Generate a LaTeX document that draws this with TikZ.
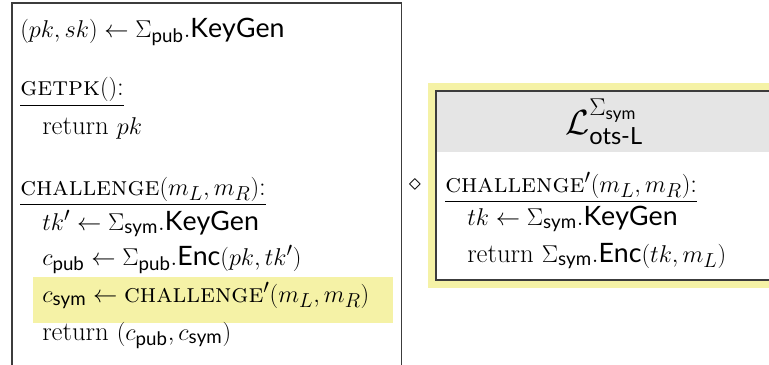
\documentclass[tikz,border=0pt]{standalone}
\usepackage{amsmath}
\usepackage{fontspec}
\setsansfont{Lato}
\usepackage{tikz}

\definecolor{hlyellow}{RGB}{245,242,166}
\definecolor{hdgray}{RGB}{229,229,229}
\definecolor{frameline}{RGB}{60,60,60}

\newcommand{\pub}{\mathsf{pub}}
\newcommand{\sym}{\mathsf{sym}}
\newcommand{\oracle}[1]{\textsc{#1}}

\begin{document}
\begin{tikzpicture}[x=0.025cm,y=-0.025cm,
		codeline/.style={anchor=base west,inner sep=0pt,font=\fontsize{19}{23}\selectfont},
		frame/.style={draw=frameline,line width=1.1pt},
		innerframe/.style={draw=frameline,line width=0.8pt}]
		
		\useasboundingbox (0,0) rectangle (769,364);
		\clip (0,0) rectangle (769,364);
		
		% Left game
		% Draw frame and highlighted line
		\draw[frame] (12,3) rectangle (401.5,380);
		\fill[hlyellow] (33,277) rectangle (393,323);
		
		% Draw code lines
		\node[codeline] (keygen) at (20,37) {$(pk, sk) \leftarrow \Sigma_{\pub}.\mathsf{KeyGen}$};
		\node[codeline] (getpk) at (20,95) {\oracle{getpk}$()$:};
		\node[codeline] (retpk) at (42,134) {return $pk$};
		\node[codeline] (chal) at (20,195) {\oracle{challenge}$(m_L, m_R)$:};
		\node[codeline] (tkp) at (42,230) {$tk' \leftarrow \Sigma_{\sym}.\mathsf{KeyGen}$};
		\node[codeline] (cpub) at (42,265) {$c_{\pub} \leftarrow \Sigma_{\pub}.\mathsf{Enc}(pk, tk')$};
		\node[codeline] (csym) at (42,302) {$c_{\sym} \leftarrow \oracle{challenge}'(m_L, m_R)$};
		\node[codeline] (retc) at (42,340) {return $(c_{\pub}, c_{\sym})$};
		
		% Draw underlines
		\draw[line width=0.8pt] ([yshift=-3pt]getpk.south west) -- ([yshift=-3pt]getpk.south east);
		\draw[line width=0.8pt] ([yshift=-2pt]chal.south west) -- ([yshift=-2pt]chal.south east);
		
		
		% Composition
		\node[font=\fontsize{18}{22}\selectfont] (comp) at (415,185) {$\diamond$};
		
		
		% Right library
		% Draw highlight, header and frame
		\fill[hlyellow] (428,83) rectangle (790,288);
		\fill[white] (436,91) rectangle (790,280);
		\fill[hdgray] (436,91) rectangle (790,152);
		\draw[innerframe] (436,91) rectangle (790,280);
		
		% Draw title and code lines
		\node[inner sep=0pt,font=\fontsize{24}{28}\selectfont] (lib) at (604,122) {$\mathcal{L}^{\Sigma_{\sym}}_{\textsf{ots-L}}$};
		\node[codeline] (chalp) at (445,192) {\oracle{challenge}$'(m_L, m_R)$:};
		\node[codeline] (tk) at (467,225) {$tk \leftarrow \Sigma_{\sym}.\mathsf{KeyGen}$};
		\node[codeline] (ret) at (467,262) {return $\Sigma_{\sym}.\mathsf{Enc}(tk, m_L)$};
		
		% Draw underline
		\draw[line width=0.8pt] ([yshift=-2pt]chalp.south west) -- ([yshift=-2pt]chalp.south east);
		
		\end{tikzpicture}
\end{document}
